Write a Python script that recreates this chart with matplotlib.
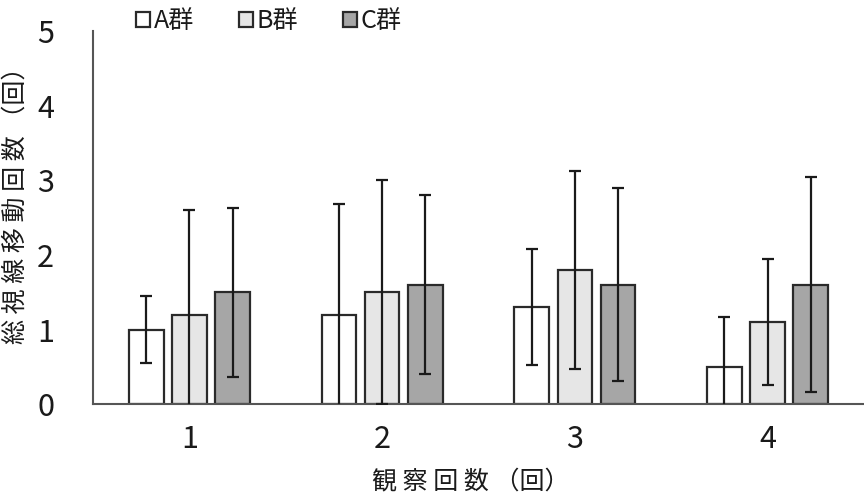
import matplotlib.pyplot as plt
import numpy as np

plt.rcParams['font.family'] = ['Noto Sans CJK JP', 'DejaVu Sans']

sessions = ['1', '2', '3', '4']
groups = ['A群', 'B群', 'C群']
means = {
    'A群': [1.0, 1.2, 1.3, 0.5],
    'B群': [1.2, 1.5, 1.8, 1.1],
    'C群': [1.5, 1.6, 1.6, 1.6],
}
sds = {
    'A群': [0.45, 1.48, 0.78, 0.67],
    'B群': [1.40, 1.50, 1.33, 0.84],
    'C群': [1.13, 1.20, 1.29, 1.44],
}
colors = {'A群': '#ffffff', 'B群': '#e6e6e6', 'C群': '#a6a6a6'}

fig = plt.figure(figsize=(8.64, 4.99), dpi=100)
ax = fig.add_axes([0.1076, 0.19, 0.8924, 0.748])

x = np.arange(len(sessions))
width = 0.18
offsets = [-0.224, 0.0, 0.224]

for g, off in zip(groups, offsets):
    ax.bar(x + off, means[g], width, color=colors[g], edgecolor='#2a2a2a',
           linewidth=1.6, label=g, zorder=2)
    ax.errorbar(x + off, means[g], yerr=sds[g], fmt='none', ecolor='#1a1a1a',
                elinewidth=1.6, capsize=4.5, capthick=1.6, zorder=3)

ax.set_xlim(-0.5, 3.5)
ax.set_ylim(0, 5)
ax.set_xticks(x)
ax.set_xticklabels(sessions)
ax.set_yticks(range(6))
ax.tick_params(length=0, labelsize=22, colors='#1a1a1a')
ax.tick_params(axis='x', pad=14)
ax.tick_params(axis='y', pad=28)
for s in ['top', 'right']:
    ax.spines[s].set_visible(False)
for s in ['left', 'bottom']:
    ax.spines[s].set_color('#555555')
    ax.spines[s].set_linewidth(1.5)

ax.set_ylabel('総 視 線 移 動 回 数 （回）', fontsize=18, color='#1a1a1a')
ax.yaxis.set_label_coords(-0.084, 0.55)
ax.set_xlabel('観 察 回 数 （回）', fontsize=18, color='#1a1a1a')
ax.xaxis.set_label_coords(0.49, -0.175)

fig.legend(loc='center left', bbox_to_anchor=(126 / 864, 1 - 21 / 499), ncol=3,
           frameon=False, fontsize=18, handlelength=0.55, handleheight=0.55,
           handletextpad=0.15, columnspacing=1.8, borderaxespad=0,
           labelcolor='#1a1a1a')

fig.savefig('out.png', dpi=100)
